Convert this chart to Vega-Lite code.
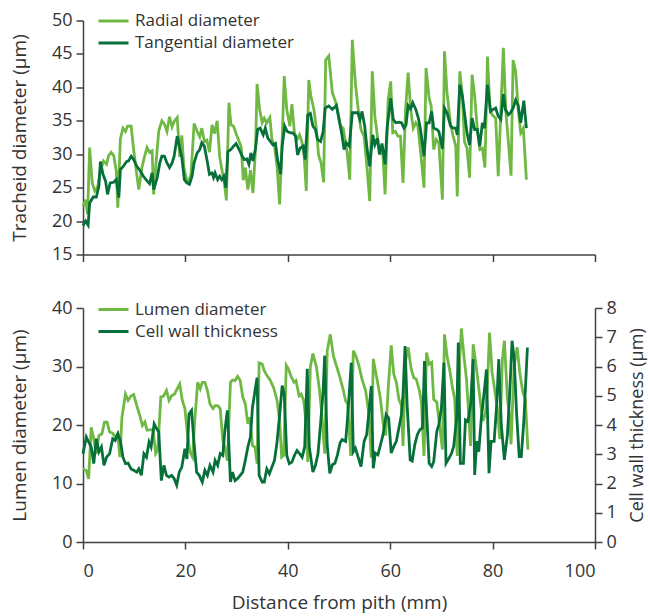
{
"$schema": "https://vega.github.io/schema/vega-lite/v6.json",
"padding": {"left": 10, "top": 11.5, "right": 2, "bottom": 2},
"datasets": {
"radial": [{"d":0,"v":22.2},{"d":0.5,"v":23.2},{"d":0.9,"v":21},{"d":1.3,"v":31},{"d":1.8,"v":25.7},{"d":2.3,"v":24.5},{"d":2.9,"v":25.2},{"d":3.4,"v":27.5},{"d":4.0,"v":29},{"d":4.6,"v":28.5},{"d":5.0,"v":29.8},{"d":5.5,"v":30.3},{"d":6.0,"v":29.8},{"d":6.5,"v":27.5},{"d":6.8,"v":22},{"d":7.3,"v":32.3},{"d":7.8,"v":33.9},{"d":8.3,"v":33.4},{"d":8.7,"v":34.2},{"d":9.4,"v":34.2},{"d":9.9,"v":30.6},{"d":10.5,"v":27},{"d":10.9,"v":24.7},{"d":11.5,"v":28},{"d":12.0,"v":29.6},{"d":12.5,"v":31},{"d":13.0,"v":30.3},{"d":13.5,"v":30.5},{"d":13.8,"v":24},{"d":14.3,"v":29},{"d":14.8,"v":33.5},{"d":15.4,"v":35},{"d":15.9,"v":34.5},{"d":16.4,"v":33.4},{"d":16.9,"v":35.6},{"d":17.4,"v":34.1},{"d":17.8,"v":34.9},{"d":18.4,"v":35.5},{"d":18.9,"v":29.6},{"d":19.3,"v":32.8},{"d":19.7,"v":28},{"d":20.2,"v":26.3},{"d":20.6,"v":25.8},{"d":21.1,"v":27},{"d":21.7,"v":34.6},{"d":22.3,"v":33.4},{"d":22.8,"v":32.6},{"d":23.2,"v":33.9},{"d":23.7,"v":31.9},{"d":24.2,"v":32.1},{"d":24.7,"v":30.3},{"d":25.2,"v":34.4},{"d":25.7,"v":33.1},{"d":26.2,"v":35},{"d":26.7,"v":29.6},{"d":27.1,"v":27.8},{"d":27.6,"v":25.8},{"d":28.0,"v":23.1},{"d":28.5,"v":37.7},{"d":28.9,"v":34.4},{"d":29.4,"v":34.2},{"d":29.9,"v":33.1},{"d":30.4,"v":32.1},{"d":30.9,"v":31.1},{"d":31.3,"v":26.1},{"d":31.7,"v":28},{"d":32.2,"v":24.7},{"d":32.7,"v":27.6},{"d":33.2,"v":24.2},{"d":33.7,"v":30.9},{"d":34.0,"v":40.5},{"d":34.5,"v":36.7},{"d":35.0,"v":34.7},{"d":35.4,"v":35.4},{"d":35.9,"v":34.7},{"d":36.5,"v":35.5},{"d":36.9,"v":32.2},{"d":37.4,"v":31.2},{"d":37.9,"v":28.2},{"d":38.4,"v":22.5},{"d":38.9,"v":32.2},{"d":39.3,"v":41.7},{"d":39.8,"v":36.7},{"d":40.4,"v":34.2},{"d":40.8,"v":37.5},{"d":41.3,"v":33.2},{"d":41.8,"v":32.2},{"d":42.3,"v":32.9},{"d":42.8,"v":31.7},{"d":43.2,"v":29.7},{"d":43.6,"v":24.5},{"d":44.1,"v":41.1},{"d":44.5,"v":38.7},{"d":45.1,"v":36.7},{"d":45.6,"v":33.7},{"d":46.0,"v":29.9},{"d":46.5,"v":28.7},{"d":47.0,"v":25.8},{"d":47.4,"v":44.1},{"d":48.0,"v":44.7},{"d":48.7,"v":39.2},{"d":49.3,"v":37.9},{"d":49.8,"v":36.2},{"d":50.3,"v":34.2},{"d":50.8,"v":33.9},{"d":51.3,"v":31.7},{"d":51.6,"v":30.2},{"d":52.1,"v":26.2},{"d":52.6,"v":47.1},{"d":53.2,"v":40.6},{"d":53.9,"v":35.7},{"d":54.3,"v":33.7},{"d":54.9,"v":32.7},{"d":55.5,"v":27.7},{"d":56.0,"v":23},{"d":56.5,"v":42.4},{"d":57.0,"v":35.7},{"d":57.5,"v":32.7},{"d":58.0,"v":29.9},{"d":58.5,"v":31.2},{"d":59.0,"v":24},{"d":59.6,"v":38.2},{"d":60.1,"v":40.9},{"d":60.5,"v":33.2},{"d":61.0,"v":33.4},{"d":61.5,"v":32.7},{"d":62.0,"v":32.7},{"d":62.5,"v":25.7},{"d":63.0,"v":36.7},{"d":63.5,"v":42.2},{"d":64.0,"v":36.7},{"d":64.5,"v":33.9},{"d":65.0,"v":34.7},{"d":65.4,"v":34.2},{"d":65.9,"v":30.7},{"d":66.6,"v":25},{"d":67.0,"v":42.9},{"d":67.6,"v":38.4},{"d":68.0,"v":37.2},{"d":68.5,"v":30.7},{"d":69.0,"v":32.2},{"d":69.5,"v":31.7},{"d":70.2,"v":23.2},{"d":70.6,"v":45.4},{"d":71.1,"v":39.2},{"d":71.8,"v":34.4},{"d":72.3,"v":32.7},{"d":72.8,"v":31.2},{"d":73.1,"v":23.7},{"d":73.6,"v":42.4},{"d":74.1,"v":38.7},{"d":74.5,"v":31.9},{"d":75.0,"v":30.9},{"d":75.5,"v":26.5},{"d":76.0,"v":41.9},{"d":76.5,"v":38.7},{"d":77.0,"v":33.9},{"d":77.5,"v":30.7},{"d":78.0,"v":30.9},{"d":78.5,"v":28},{"d":79.0,"v":44.6},{"d":79.5,"v":36.7},{"d":79.9,"v":35.9},{"d":80.6,"v":35.4},{"d":81.1,"v":26.7},{"d":81.6,"v":36.2},{"d":82.1,"v":45.9},{"d":82.6,"v":36.2},{"d":83.1,"v":31.7},{"d":83.6,"v":26.8},{"d":84.0,"v":44.1},{"d":84.5,"v":42.4},{"d":85.0,"v":36.7},{"d":85.5,"v":33.2},{"d":86.0,"v":33.9},{"d":86.6,"v":26.2}],
"tangential": [{"d":0,"v":19.3},{"d":0.5,"v":20},{"d":1.0,"v":19.4},{"d":1.3,"v":22.7},{"d":2.0,"v":23.6},{"d":2.6,"v":23.6},{"d":3.1,"v":25.2},{"d":3.4,"v":28.9},{"d":3.9,"v":27},{"d":4.4,"v":26},{"d":4.8,"v":24},{"d":5.3,"v":25.7},{"d":6.0,"v":25.8},{"d":6.5,"v":26.2},{"d":7.0,"v":23.5},{"d":7.3,"v":27.7},{"d":7.9,"v":28.2},{"d":8.5,"v":28.9},{"d":8.9,"v":29},{"d":9.4,"v":29.7},{"d":9.9,"v":29.2},{"d":10.5,"v":28.2},{"d":11.2,"v":27.5},{"d":11.8,"v":26.7},{"d":12.5,"v":26},{"d":13.0,"v":25.6},{"d":13.5,"v":27.2},{"d":13.8,"v":24.7},{"d":14.5,"v":26.5},{"d":15.0,"v":28.7},{"d":15.4,"v":29.7},{"d":15.9,"v":29.7},{"d":16.4,"v":28.7},{"d":16.9,"v":28},{"d":17.4,"v":28.7},{"d":17.8,"v":29.7},{"d":18.4,"v":32.7},{"d":18.9,"v":30.9},{"d":19.3,"v":29.5},{"d":19.8,"v":26.2},{"d":20.3,"v":25.7},{"d":20.8,"v":25.5},{"d":21.3,"v":26.7},{"d":21.7,"v":28.7},{"d":22.3,"v":30.2},{"d":22.8,"v":30.7},{"d":23.2,"v":31.7},{"d":23.7,"v":31.2},{"d":24.2,"v":29.2},{"d":24.7,"v":27},{"d":25.2,"v":27.2},{"d":25.5,"v":26.5},{"d":25.8,"v":27.2},{"d":26.3,"v":26.2},{"d":26.7,"v":26.7},{"d":27.1,"v":26.2},{"d":27.5,"v":26.7},{"d":27.9,"v":25},{"d":28.3,"v":30.4},{"d":28.9,"v":30.7},{"d":29.4,"v":31.2},{"d":29.9,"v":31.6},{"d":30.5,"v":30.7},{"d":31.1,"v":29.7},{"d":31.5,"v":29.2},{"d":32.0,"v":29.3},{"d":32.4,"v":28.5},{"d":32.8,"v":30.2},{"d":33.2,"v":29},{"d":33.7,"v":30.9},{"d":34.1,"v":33.7},{"d":34.6,"v":33.9},{"d":35.2,"v":32.9},{"d":35.6,"v":33.9},{"d":36.1,"v":32.4},{"d":36.6,"v":31.9},{"d":37.1,"v":31.4},{"d":37.6,"v":31.6},{"d":38.0,"v":29.2},{"d":38.6,"v":27},{"d":38.9,"v":31.2},{"d":39.4,"v":34.2},{"d":39.9,"v":33.4},{"d":40.5,"v":33.2},{"d":41.0,"v":33.2},{"d":41.5,"v":32.7},{"d":41.9,"v":29.9},{"d":42.4,"v":30.9},{"d":43.0,"v":31.2},{"d":43.4,"v":29.2},{"d":43.9,"v":35.9},{"d":44.4,"v":36.1},{"d":44.9,"v":34.2},{"d":45.4,"v":33.7},{"d":45.8,"v":32.2},{"d":46.4,"v":31.9},{"d":46.9,"v":33.4},{"d":47.3,"v":36.9},{"d":48.0,"v":37.2},{"d":48.7,"v":36.7},{"d":49.5,"v":37.3},{"d":50.0,"v":35.2},{"d":50.5,"v":33.2},{"d":51.0,"v":30.7},{"d":51.4,"v":31.7},{"d":52.0,"v":31.2},{"d":52.6,"v":36.2},{"d":53.2,"v":36.2},{"d":53.7,"v":36.2},{"d":54.1,"v":35.2},{"d":54.5,"v":36.4},{"d":55.0,"v":34.3},{"d":55.5,"v":30.7},{"d":56.0,"v":28.2},{"d":56.6,"v":32.9},{"d":57.0,"v":31.4},{"d":57.5,"v":32.4},{"d":57.9,"v":30},{"d":58.4,"v":31.6},{"d":59.0,"v":28.5},{"d":59.4,"v":33.9},{"d":60.1,"v":38.4},{"d":60.6,"v":35.2},{"d":61.1,"v":34.7},{"d":61.7,"v":34.8},{"d":62.2,"v":34.7},{"d":62.7,"v":33.9},{"d":63.1,"v":34.4},{"d":63.5,"v":37.3},{"d":64.0,"v":36.8},{"d":64.4,"v":37.7},{"d":65.0,"v":36.7},{"d":65.5,"v":35.4},{"d":65.9,"v":33.8},{"d":66.6,"v":29.7},{"d":67.1,"v":34.7},{"d":67.6,"v":34.7},{"d":68.1,"v":36.4},{"d":68.5,"v":33.9},{"d":69.1,"v":33.7},{"d":69.5,"v":33.4},{"d":70.2,"v":30.8},{"d":70.6,"v":36.9},{"d":71.1,"v":36.2},{"d":71.8,"v":34.2},{"d":72.3,"v":33.9},{"d":72.8,"v":33.9},{"d":73.1,"v":32.9},{"d":73.6,"v":40.4},{"d":74.1,"v":38.7},{"d":74.5,"v":36.2},{"d":75.0,"v":33.2},{"d":75.5,"v":31.4},{"d":76.0,"v":35.4},{"d":76.5,"v":33.7},{"d":77.0,"v":33.7},{"d":77.5,"v":31.2},{"d":78.0,"v":34.7},{"d":78.4,"v":33.9},{"d":79.0,"v":40.4},{"d":79.6,"v":36.4},{"d":80.1,"v":36.7},{"d":80.6,"v":36.9},{"d":81.1,"v":35.7},{"d":81.6,"v":35.2},{"d":82.1,"v":39},{"d":82.5,"v":36.7},{"d":83.1,"v":35.9},{"d":83.5,"v":36.2},{"d":84.0,"v":36.9},{"d":84.5,"v":38.1},{"d":85.0,"v":37.3},{"d":85.5,"v":34.7},{"d":86.1,"v":38},{"d":86.6,"v":33.9}],
"lumen": [{"d":0,"v":12.5},{"d":0.65,"v":12.2},{"d":1.1,"v":10.8},{"d":1.6,"v":19.6},{"d":2.1,"v":17.6},{"d":2.6,"v":15.1},{"d":3.1,"v":18.2},{"d":3.7,"v":18.5},{"d":4.2,"v":20.5},{"d":4.7,"v":20.5},{"d":5.2,"v":18.8},{"d":5.8,"v":18.6},{"d":6.3,"v":17.9},{"d":6.8,"v":18.5},{"d":7.2,"v":14.5},{"d":7.6,"v":21.3},{"d":8.3,"v":25.3},{"d":8.8,"v":24.2},{"d":9.4,"v":25},{"d":9.9,"v":25.2},{"d":10.5,"v":23.3},{"d":11.1,"v":21.6},{"d":11.6,"v":19.9},{"d":12.1,"v":20.5},{"d":12.5,"v":19.1},{"d":13.2,"v":19.2},{"d":13.7,"v":19.1},{"d":14.2,"v":15.1},{"d":14.6,"v":15.7},{"d":15.2,"v":24.8},{"d":15.7,"v":24.9},{"d":16.3,"v":25.9},{"d":16.8,"v":24.2},{"d":17.3,"v":25},{"d":17.9,"v":25.3},{"d":18.4,"v":26.2},{"d":18.9,"v":27},{"d":19.4,"v":24.2},{"d":19.9,"v":22.8},{"d":20.4,"v":18.5},{"d":20.9,"v":15.4},{"d":21.4,"v":14.5},{"d":21.8,"v":20.5},{"d":22.4,"v":27.3},{"d":22.9,"v":26.2},{"d":23.3,"v":27.3},{"d":23.8,"v":27.3},{"d":24.3,"v":25.9},{"d":24.8,"v":23.6},{"d":25.4,"v":22.8},{"d":25.8,"v":23.3},{"d":26.3,"v":23.3},{"d":26.8,"v":22.8},{"d":27.3,"v":17.4},{"d":27.7,"v":16.2},{"d":28.2,"v":13.9},{"d":28.8,"v":27.3},{"d":29.2,"v":27.7},{"d":29.7,"v":27.6},{"d":30.2,"v":28.3},{"d":30.7,"v":27.6},{"d":31.2,"v":24.8},{"d":31.7,"v":23.6},{"d":32.2,"v":20.2},{"d":32.6,"v":21.3},{"d":33.1,"v":16.5},{"d":33.6,"v":16.2},{"d":34.0,"v":13.4},{"d":34.4,"v":30.6},{"d":35.0,"v":30.4},{"d":35.4,"v":29.3},{"d":35.9,"v":28.5},{"d":36.6,"v":27.6},{"d":37.3,"v":26.2},{"d":37.9,"v":24.2},{"d":38.4,"v":20.8},{"d":38.8,"v":14.5},{"d":39.2,"v":14.8},{"d":39.7,"v":30.2},{"d":40.1,"v":29.6},{"d":40.7,"v":28.2},{"d":41.2,"v":27.3},{"d":41.6,"v":27.6},{"d":42.2,"v":25},{"d":42.6,"v":25.3},{"d":43.1,"v":24.2},{"d":43.6,"v":20.2},{"d":43.9,"v":13.7},{"d":44.4,"v":29.9},{"d":44.9,"v":32.2},{"d":45.6,"v":29.9},{"d":46.2,"v":25.9},{"d":46.7,"v":21.3},{"d":47.2,"v":15.1},{"d":47.7,"v":32.7},{"d":48.3,"v":35.5},{"d":48.9,"v":31.8},{"d":49.5,"v":30.1},{"d":50.2,"v":28.1},{"d":50.8,"v":26.1},{"d":51.3,"v":24.1},{"d":51.7,"v":23.6},{"d":52.3,"v":14.7},{"d":52.8,"v":32.7},{"d":53.3,"v":31.8},{"d":53.9,"v":30.1},{"d":54.5,"v":27.8},{"d":55.2,"v":25.9},{"d":55.8,"v":22.1},{"d":56.3,"v":14.4},{"d":56.7,"v":31.3},{"d":57.1,"v":29.3},{"d":57.6,"v":27},{"d":58.1,"v":24.4},{"d":58.6,"v":20.4},{"d":59.1,"v":18.2},{"d":59.6,"v":26.1},{"d":60.2,"v":33.6},{"d":60.7,"v":28.7},{"d":61.2,"v":27.3},{"d":61.7,"v":24.4},{"d":62.2,"v":23.3},{"d":62.5,"v":16.4},{"d":63.0,"v":31},{"d":63.5,"v":33.3},{"d":64.1,"v":29.6},{"d":64.6,"v":28.1},{"d":65.1,"v":27.8},{"d":65.7,"v":25.9},{"d":66.1,"v":23.9},{"d":66.6,"v":14.7},{"d":67.1,"v":32.4},{"d":67.6,"v":30.4},{"d":68.1,"v":30.7},{"d":68.5,"v":24.4},{"d":69.1,"v":23.9},{"d":69.5,"v":21},{"d":70.2,"v":15.8},{"d":70.6,"v":35.5},{"d":71.1,"v":31.8},{"d":71.7,"v":29},{"d":72.1,"v":26.7},{"d":72.6,"v":24.4},{"d":73.1,"v":14.7},{"d":73.6,"v":31.5},{"d":73.9,"v":36.5},{"d":74.4,"v":31.8},{"d":74.9,"v":27.8},{"d":75.2,"v":23.6},{"d":75.7,"v":16.4},{"d":76.2,"v":33.8},{"d":76.7,"v":30.7},{"d":77.1,"v":27.8},{"d":77.7,"v":23.3},{"d":78.1,"v":20.7},{"d":78.6,"v":21.9},{"d":79.0,"v":27},{"d":79.4,"v":35.8},{"d":79.9,"v":29},{"d":80.4,"v":26.1},{"d":80.9,"v":23},{"d":81.4,"v":17.6},{"d":81.9,"v":31},{"d":82.3,"v":34.4},{"d":82.9,"v":24.4},{"d":83.3,"v":21.6},{"d":83.6,"v":16.7},{"d":84.2,"v":30.1},{"d":84.8,"v":33.3},{"d":85.3,"v":29},{"d":85.9,"v":25.6},{"d":86.4,"v":24.4},{"d":86.9,"v":15.8}],
"wall": [{"d":0,"v":3.02},{"d":0.65,"v":3.59},{"d":1.1,"v":3.42},{"d":1.6,"v":3.25},{"d":2.1,"v":2.68},{"d":2.6,"v":3.53},{"d":3.1,"v":3.08},{"d":3.6,"v":3.25},{"d":4.1,"v":2.62},{"d":4.6,"v":2.9},{"d":5.2,"v":3.02},{"d":5.8,"v":3.53},{"d":6.3,"v":3.47},{"d":6.8,"v":3.7},{"d":7.3,"v":3.47},{"d":7.8,"v":2.9},{"d":8.3,"v":2.68},{"d":8.8,"v":2.7},{"d":9.4,"v":2.5},{"d":9.9,"v":2.45},{"d":10.5,"v":2.39},{"d":10.9,"v":2.5},{"d":11.4,"v":2.28},{"d":11.9,"v":3.02},{"d":12.4,"v":2.9},{"d":12.9,"v":3.42},{"d":13.3,"v":3.25},{"d":13.9,"v":4.04},{"d":14.4,"v":3.87},{"d":14.8,"v":3.76},{"d":15.3,"v":2.1},{"d":15.8,"v":2.62},{"d":16.3,"v":2.28},{"d":16.8,"v":2.22},{"d":17.3,"v":2.28},{"d":17.8,"v":2.17},{"d":18.3,"v":1.94},{"d":18.8,"v":2.39},{"d":19.3,"v":2.56},{"d":19.9,"v":3.19},{"d":20.3,"v":2.84},{"d":20.7,"v":4.38},{"d":21.2,"v":4.5},{"d":21.7,"v":3.36},{"d":22.2,"v":2.39},{"d":22.7,"v":2.28},{"d":23.3,"v":2.05},{"d":23.8,"v":2.45},{"d":24.3,"v":2.28},{"d":24.8,"v":2.62},{"d":25.4,"v":2.39},{"d":25.8,"v":2.79},{"d":26.3,"v":2.62},{"d":26.8,"v":3.02},{"d":27.3,"v":2.96},{"d":27.7,"v":3.81},{"d":28.2,"v":4.5},{"d":28.8,"v":2.05},{"d":29.2,"v":2.39},{"d":29.7,"v":2.1},{"d":30.2,"v":2.17},{"d":30.7,"v":2.28},{"d":31.2,"v":2.39},{"d":31.7,"v":2.79},{"d":32.2,"v":3.25},{"d":32.7,"v":3.59},{"d":33.1,"v":4.6},{"d":33.6,"v":5.17},{"d":34.0,"v":5.62},{"d":34.4,"v":2.28},{"d":35.0,"v":2.05},{"d":35.4,"v":2.05},{"d":35.9,"v":2.5},{"d":36.4,"v":2.33},{"d":36.9,"v":2.56},{"d":37.4,"v":2.79},{"d":37.9,"v":3.42},{"d":38.4,"v":4.33},{"d":38.9,"v":5.35},{"d":39.3,"v":5.06},{"d":39.8,"v":2.96},{"d":40.3,"v":2.68},{"d":40.8,"v":2.73},{"d":41.3,"v":2.96},{"d":41.8,"v":3.13},{"d":42.3,"v":3.02},{"d":42.8,"v":2.9},{"d":43.3,"v":3.25},{"d":43.8,"v":5.92},{"d":44.2,"v":3.25},{"d":44.9,"v":2.39},{"d":45.4,"v":2.62},{"d":45.9,"v":3.02},{"d":46.4,"v":4.04},{"d":46.9,"v":5.17},{"d":47.2,"v":6.37},{"d":47.7,"v":3.3},{"d":48.2,"v":2.35},{"d":48.7,"v":2.64},{"d":49.2,"v":2.69},{"d":49.7,"v":2.98},{"d":50.2,"v":3.38},{"d":50.6,"v":3.5},{"d":51.3,"v":3.44},{"d":51.7,"v":4.3},{"d":52.4,"v":6.13},{"d":52.8,"v":3.09},{"d":53.2,"v":3.21},{"d":53.8,"v":2.87},{"d":54.3,"v":2.58},{"d":54.9,"v":3.44},{"d":55.4,"v":3.67},{"d":55.8,"v":4.36},{"d":56.3,"v":5.33},{"d":56.7,"v":2.52},{"d":57.1,"v":3.04},{"d":57.6,"v":2.98},{"d":58.1,"v":3.32},{"d":58.6,"v":3.67},{"d":59.2,"v":4.36},{"d":59.7,"v":4.24},{"d":60.2,"v":3.04},{"d":60.7,"v":3.27},{"d":61.2,"v":3.44},{"d":61.7,"v":3.9},{"d":62.2,"v":4.36},{"d":62.5,"v":5.04},{"d":62.9,"v":6.7},{"d":63.3,"v":4.7},{"d":63.9,"v":2.81},{"d":64.3,"v":2.77},{"d":64.8,"v":3.32},{"d":65.3,"v":3.67},{"d":65.8,"v":3.84},{"d":66.3,"v":3.9},{"d":66.7,"v":6.19},{"d":67.1,"v":4.47},{"d":67.6,"v":2.69},{"d":68.1,"v":2.58},{"d":68.5,"v":2.75},{"d":69.1,"v":3.78},{"d":69.5,"v":4.01},{"d":70.0,"v":4.58},{"d":70.5,"v":6.13},{"d":70.9,"v":2.69},{"d":71.5,"v":2.87},{"d":72.0,"v":3.04},{"d":72.4,"v":3.27},{"d":73.0,"v":4.3},{"d":73.3,"v":6.82},{"d":73.7,"v":2.69},{"d":74.3,"v":2.69},{"d":74.7,"v":4.18},{"d":75.2,"v":4.13},{"d":75.7,"v":4.7},{"d":76.2,"v":6.25},{"d":76.5,"v":2.29},{"d":76.9,"v":3.44},{"d":77.3,"v":3.09},{"d":77.8,"v":4.24},{"d":78.3,"v":5.04},{"d":78.8,"v":5.9},{"d":79.3,"v":2.35},{"d":79.7,"v":3.44},{"d":80.3,"v":3.44},{"d":80.8,"v":4.7},{"d":81.2,"v":6.25},{"d":81.7,"v":4.01},{"d":82.3,"v":2.81},{"d":82.9,"v":3.67},{"d":83.3,"v":4.93},{"d":83.8,"v":6.88},{"d":84.2,"v":6.3},{"d":84.7,"v":4.36},{"d":85.2,"v":2.92},{"d":85.6,"v":2.92},{"d":86.1,"v":4.13},{"d":86.8,"v":6.65}]
},
"config": {
"font": "Open Sans",
"view": {"stroke": null},
"axis": {"grid": false, "domainColor": "#404040", "tickColor": "#404040", "domainWidth": 1.5, "tickWidth": 1.5, "tickSize": 7, "labelFontSize": 18, "labelColor": "#333333", "labelOverlap": false, "titleFontSize": 19, "titleFontWeight": "normal", "titleColor": "#333333", "labelPadding": 4},
"legend": {"labelFontSize": 17, "labelColor": "#333333", "labelLimit": 400, "symbolType": "M-3,0H3", "symbolSize": 100, "symbolStrokeWidth": 3, "rowPadding": 4, "padding": 0, "labelOffset": 13},
"concat": {"spacing": 35.5}
},
"resolve": {"scale": {"color": "independent"}, "legend": {"color": "independent"}},
"vconcat": [
{
"width": 512, "height": 234,
"encoding": {
"x": {"field": "d", "type": "quantitative", "scale": {"domain": [0, 100], "nice": false}, "axis": {"values": [0, 20, 40, 60, 80, 100], "labels": false, "title": null}},
"y": {"field": "v", "type": "quantitative", "scale": {"domain": [15, 50], "zero": false, "nice": false}, "axis": {"values": [15, 20, 25, 30, 35, 40, 45, 50], "labelOverlap": false, "title": "Tracheid diameter (μm)", "titlePadding": 22}}
},
"layer": [
{"data": {"name": "radial"}, "mark": {"type": "line", "strokeWidth": 2.8},
"encoding": {
"color": {"datum": "Radial diameter", "type": "nominal", "scale": {"domain": ["Radial diameter", "Tangential diameter"], "range": ["#6fb843", "#07703a"]}, "legend": {"orient": "none", "legendX": 22, "legendY": -8, "title": null}}
}},
{"data": {"name": "tangential"}, "mark": {"type": "line", "strokeWidth": 2.8},
"encoding": {
"color": {"datum": "Tangential diameter", "type": "nominal"}
}}
]
},
{
"width": 512, "height": 234,
"encoding": {
"x": {"field": "d", "type": "quantitative", "scale": {"domain": [0, 100], "nice": false}, "axis": {"values": [0, 20, 40, 60, 80, 100], "labelPadding": 13, "title": "Distance from pith (mm)", "titlePadding": 13}}
},
"layer": [
{"data": {"name": "lumen"}, "mark": {"type": "line", "strokeWidth": 2.8},
"encoding": {
"y": {"field": "v", "type": "quantitative", "scale": {"domain": [0, 40], "nice": false}, "axis": {"values": [0, 10, 20, 30, 40], "title": "Lumen diameter (μm)", "titlePadding": 22}},
"color": {"datum": "Lumen diameter", "type": "nominal", "scale": {"domain": ["Lumen diameter", "Cell wall thickness"], "range": ["#6fb843", "#07703a"]}, "legend": {"orient": "none", "legendX": 22, "legendY": -7, "title": null}}
}},
{"data": {"name": "wall"}, "mark": {"type": "line", "strokeWidth": 2.8},
"encoding": {
"y": {"field": "v", "type": "quantitative", "scale": {"domain": [0, 8], "nice": false}, "axis": {"orient": "right", "values": [0, 1, 2, 3, 4, 5, 6, 7, 8], "title": "Cell wall thickness (μm)", "titleFontSize": 18, "titleAngle": -90, "titlePadding": 30}},
"color": {"datum": "Cell wall thickness", "type": "nominal"}
}}
],
"resolve": {"scale": {"y": "independent"}}
}
]
}
